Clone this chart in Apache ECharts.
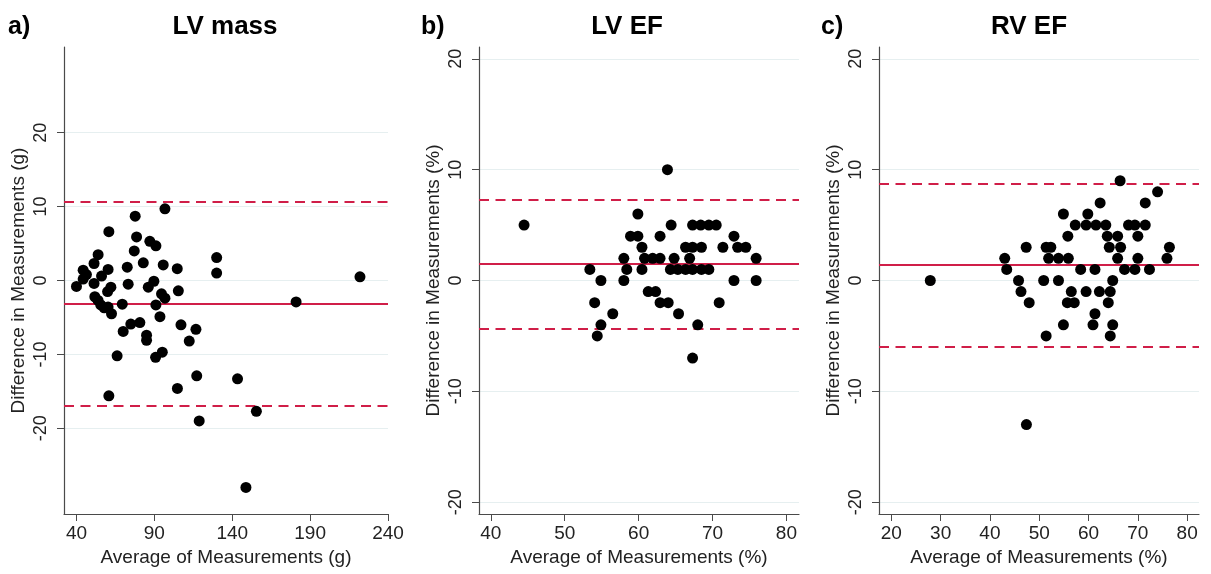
<!DOCTYPE html>
<html>
<head>
<meta charset="utf-8">
<title>Bland-Altman plots</title>
<script src="https://cdn.jsdelivr.net/npm/echarts@6/dist/echarts.min.js"></script>
<style>
  html, body { margin: 0; padding: 0; background: #fff; }
  #chart { width: 1211px; height: 574px; }
</style>
</head>
<body>
<div id="chart"></div>
<script>
// a) LV mass
const lvMassX = [40.0, 44.3, 46.4, 44.3, 51.3, 51.3, 53.9, 56.1, 60.3, 60.8, 60.0, 62.1,
  51.8, 53.9, 55.6, 57.8, 60.3, 62.5, 69.4, 72.6, 73.2, 70.0, 66.1, 74.9, 77.1, 77.7,
  78.6, 80.7, 82.9, 85.0, 85.0, 86.1, 87.1, 89.7, 91.0, 91.0, 93.6, 94.6, 95.7, 96.8,
  96.8, 95.1, 90.8, 104.7, 105.4, 107.1, 112.4, 116.7, 117.2, 130.0, 130.0,
  60.8, 104.8, 118.8, 143.4, 148.8, 155.5, 181.0, 222.0];
const lvMassY = [-0.8, 1.4, 0.8, 0.2, -0.4, 2.3, 3.5, 0.6, 1.5, 6.6, -1.5, -0.9,
  -2.2, -2.7, -3.3, -3.7, -3.6, -4.5, -3.2, 1.8, -0.5, -6.9, -10.2, -5.9, 4.0, 8.7,
  5.9, -5.7, 2.4, -7.4, -8.1, -0.9, 5.3, -0.1, 4.7, -3.3, -4.9, -1.8, 2.1, 9.7,
  -2.4, -9.7, -10.4, 1.6, -1.4, -6.0, -8.2, -6.6, -12.9, 3.1, 1.0,
  -15.6, -14.6, -19.0, -13.3, -28.0, -17.7, -2.9, 0.5];
const lvMassLines = [-3.1, 10.7, -16.9]; // mean, upper limit, lower limit
const lvMassXTicks = [40, 90, 140, 190, 240];

// b) LV EF
const lvEfX = [63.9, 59.9,
  44.5, 64.4, 67.3, 68.4, 69.5, 70.5,
  58.9, 59.9, 62.9, 72.9,
  60.45, 66.35, 67.3, 68.5, 71.4, 73.4, 74.5,
  58.0, 60.8, 61.9, 62.9, 64.8, 66.9, 75.9,
  53.4, 58.4, 60.45, 64.3, 65.3, 66.35, 67.3, 68.5, 69.5,
  54.9, 58.0, 72.9, 75.9,
  61.3, 62.3,
  54.05, 62.9, 64.0, 70.9,
  56.5, 65.4,
  54.9, 68.0,
  54.4,
  67.3];
const lvEfY = [10, 6,
  5, 5, 5, 5, 5, 5,
  4, 4, 4, 4,
  3, 3, 3, 3, 3, 3, 3,
  2, 2, 2, 2, 2, 2, 2,
  1, 1, 1, 1, 1, 1, 1, 1, 1,
  0, 0, 0, 0,
  -1, -1,
  -2, -2, -2, -2,
  -3, -3,
  -4, -4,
  -5,
  -7];
const lvEfLines = [1.5, 7.3, -4.35];
const efXTicksB = [40, 50, 60, 70, 80];

// c) RV EF
const rvEfX = [66.4, 74.0,
  62.35, 71.5,
  54.9, 59.85,
  57.3, 59.5, 61.5, 63.5, 68.1, 69.4, 71.5,
  55.8, 63.8, 65.9, 70.0,
  47.35, 51.4, 52.35, 64.2, 66.5, 76.4,
  43.0, 51.9, 53.9, 55.9, 65.9, 70.0, 75.9,
  43.4, 58.4, 61.3, 67.3, 69.4, 72.35,
  27.9, 45.8, 50.9, 53.9, 64.9,
  46.3, 56.5, 59.5, 62.2, 64.4,
  47.96, 55.7, 57.1, 64.0,
  61.3,
  54.9, 60.9, 64.9,
  51.4, 64.4,
  47.4];
const rvEfY = [9, 8,
  7, 7,
  6, 6,
  5, 5, 5, 5, 5, 5, 5,
  4, 4, 4, 4,
  3, 3, 3, 3, 3, 3,
  2, 2, 2, 2, 2, 2, 2,
  1, 1, 1, 1, 1, 1,
  0, 0, 0, 0, 0,
  -1, -1, -1, -1, -1,
  -2, -2, -2, -2,
  -3,
  -4, -4, -4,
  -5, -5,
  -13];
const rvEfLines = [1.4, 8.75, -5.95];
const efXTicksC = [20, 30, 40, 50, 60, 70, 80];

const yTicks = [-20, -10, 0, 10, 20];
const panelLetters = ['a)', 'b)', 'c)'];
const panelTitles = ['LV mass', 'LV EF', 'RV EF'];
const xNames = ['Average of Measurements (g)', 'Average of Measurements (%)', 'Average of Measurements (%)'];
const yNames = ['Difference in Measurements (g)', 'Difference in Measurements (%)', 'Difference in Measurements (%)'];

const FONT = '"Liberation Sans", Arial, Helvetica, sans-serif';
const RED = '#d01e48';
const AXIS = '#4a4a4a';

// layout of the three panels (pixels) and axis ranges
const panels = [
  { x: lvMassX, y: lvMassY, lines: lvMassLines, xTicks: lvMassXTicks,
    xMin: 32, xMax: 240, yMin: -31.6, yMax: 31.6, left: 64, width: 324,
    letterX: 8, titleX: 225 },
  { x: lvEfX, y: lvEfY, lines: lvEfLines, xTicks: efXTicksB,
    xMin: 38.4, xMax: 81.7, yMin: -21.07, yMax: 21.07, left: 479, width: 320,
    letterX: 421, titleX: 627 },
  { x: rvEfX, y: rvEfY, lines: rvEfLines, xTicks: efXTicksC,
    xMin: 17.5, xMax: 82.4, yMin: -21.07, yMax: 21.07, left: 879, width: 320,
    letterX: 821, titleX: 1029 }
];

const grid = [], xAxis = [], yAxis = [], series = [], graphic = [];

panels.forEach((p, i) => {
  grid.push({ left: p.left, top: 47, width: p.width, height: 467 });

  xAxis.push({
    type: 'value', gridIndex: i, min: p.xMin, max: p.xMax,
    name: xNames[i], nameLocation: 'middle', nameGap: 34,
    nameTextStyle: { fontFamily: FONT, fontSize: 19, color: '#222' },
    axisLine: { show: true, onZero: false, lineStyle: { color: AXIS, width: 1.2 } },
    axisTick: { show: true, length: 7, customValues: p.xTicks, lineStyle: { color: AXIS } },
    axisLabel: { customValues: p.xTicks, margin: 10, fontFamily: FONT, fontSize: 19, color: '#222' },
    splitLine: { show: false }
  });

  yAxis.push({
    type: 'value', gridIndex: i, min: p.yMin, max: p.yMax,
    name: yNames[i], nameLocation: 'middle', nameGap: 36,
    nameTextStyle: { fontFamily: FONT, fontSize: 19, color: '#222' },
    axisLine: { show: true, onZero: false, lineStyle: { color: AXIS, width: 1.2 } },
    axisTick: { show: true, length: 7, customValues: yTicks, lineStyle: { color: AXIS } },
    axisLabel: { customValues: yTicks, rotate: 90, margin: 14, fontFamily: FONT, fontSize: 18, color: '#222' },
    splitLine: { show: true, lineStyle: { color: '#e6eff0', width: 1.2 } }
  });

  series.push({
    type: 'scatter', xAxisIndex: i, yAxisIndex: i,
    data: p.x.map((v, k) => [v, p.y[k]]),
    symbol: 'circle', symbolSize: 11,
    itemStyle: { color: '#000', opacity: 1 },
    silent: true,
    markLine: {
      z: 1, silent: true, symbol: 'none', animation: false,
      label: { show: false },
      data: [
        { yAxis: p.lines[0], lineStyle: { color: RED, width: 2, type: 'solid' } },
        { yAxis: p.lines[1], lineStyle: { color: RED, width: 2, type: [10, 6.5] } },
        { yAxis: p.lines[2], lineStyle: { color: RED, width: 2, type: [10, 6.5] } }
      ]
    }
  });

  graphic.push({
    type: 'text', x: p.letterX, y: 27,
    style: { text: panelLetters[i], font: 'bold 25px ' + FONT, fill: '#000',
      textAlign: 'left', textVerticalAlign: 'middle' }
  });
  graphic.push({
    type: 'text', x: p.titleX, y: 27,
    style: { text: panelTitles[i], font: 'bold 26px ' + FONT, fill: '#000',
      textAlign: 'center', textVerticalAlign: 'middle' }
  });
});

const chart = echarts.init(document.getElementById('chart'), null, { renderer: 'canvas' });
chart.setOption({
  backgroundColor: '#fff',
  animation: false,
  grid, xAxis, yAxis, series, graphic
});
</script>
</body>
</html>
